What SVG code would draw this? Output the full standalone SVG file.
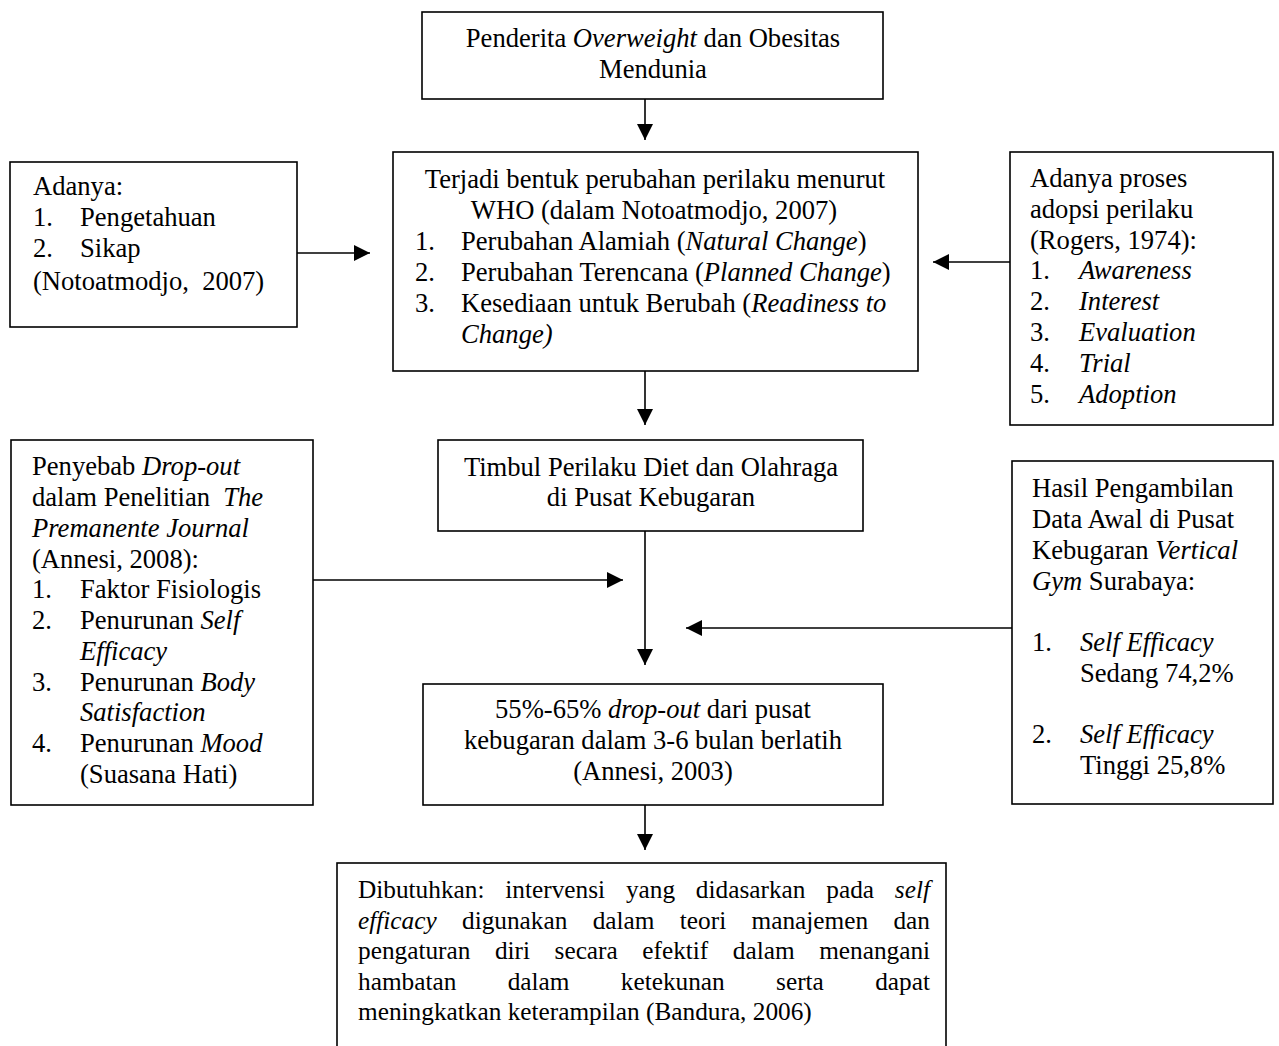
<svg xmlns="http://www.w3.org/2000/svg" width="1279" height="1046" viewBox="0 0 1279 1046">
  <style>
    .box { fill: #ffffff; stroke: #000000; stroke-width: 1.6; }
    .t { font-family: "Liberation Serif", "Times New Roman", serif; font-size: 26.6px; fill: #000000; }
    .s { font-size: 25.3px; }
    .c { text-anchor: middle; }
    .i { font-style: italic; }
    .conn { stroke: #000000; stroke-width: 1.6; fill: none; marker-end: url(#ah); }
  </style>
  <defs>
    <marker id="ah" markerWidth="16" markerHeight="16" refX="16" refY="8" orient="auto" markerUnits="userSpaceOnUse">
      <path d="M0,0 L16,8 L0,16 Z" fill="#000000"/>
    </marker>
  </defs>

  <rect x="0" y="0" width="1279" height="1046" fill="#ffffff"/>

  <!-- Connectors -->
  <g id="connectors">
    <line class="conn" x1="645" y1="99" x2="645" y2="140"/>
    <line class="conn" x1="297" y1="253" x2="370" y2="253"/>
    <line class="conn" x1="1010" y1="262" x2="933" y2="262"/>
    <line class="conn" x1="645" y1="371" x2="645" y2="425"/>
    <line class="conn" x1="645" y1="531" x2="645" y2="665"/>
    <line class="conn" x1="313" y1="580" x2="623" y2="580"/>
    <line class="conn" x1="1012" y1="628" x2="686" y2="628"/>
    <line class="conn" x1="645" y1="805" x2="645" y2="850"/>
  </g>

  <!-- Top: worldwide overweight and obesity -->
  <g id="node-overweight">
    <rect class="box" x="422" y="12" width="461" height="87"/>
    <text class="t c" x="653" y="47">Penderita <tspan class="i">Overweight</tspan> dan Obesitas</text>
    <text class="t c" x="653" y="78">Mendunia</text>
  </g>

  <!-- Behaviour change according to WHO -->
  <g id="node-who">
    <rect class="box" x="393" y="152" width="525" height="219"/>
    <text class="t c" x="655" y="188">Terjadi bentuk perubahan perilaku menurut</text>
    <text class="t c" x="654" y="219">WHO (dalam Notoatmodjo, 2007)</text>
    <text class="t" x="415" y="250">1.</text>
    <text class="t" x="461" y="250">Perubahan Alamiah (<tspan class="i">Natural Change</tspan>)</text>
    <text class="t" x="415" y="281">2.</text>
    <text class="t" x="461" y="281">Perubahan Terencana (<tspan class="i">Planned Change</tspan>)</text>
    <text class="t" x="415" y="312">3.</text>
    <text class="t" x="461" y="312">Kesediaan untuk Berubah (<tspan class="i">Readiness to</tspan></text>
    <text class="t i" x="461" y="343">Change)</text>
  </g>

  <!-- Knowledge and attitude -->
  <g id="node-knowledge">
    <rect class="box" x="10" y="162" width="287" height="165"/>
    <text class="t" x="33" y="195">Adanya:</text>
    <text class="t" x="33" y="226">1.</text>
    <text class="t" x="80" y="226">Pengetahuan</text>
    <text class="t" x="33" y="257">2.</text>
    <text class="t" x="80" y="257">Sikap</text>
    <text class="t" x="33" y="290" xml:space="preserve">(Notoatmodjo,  2007)</text>
  </g>

  <!-- Adoption process (Rogers) -->
  <g id="node-adoption">
    <rect class="box" x="1010" y="152" width="263" height="273"/>
    <text class="t" x="1030" y="187">Adanya proses</text>
    <text class="t" x="1030" y="218">adopsi perilaku</text>
    <text class="t" x="1030" y="249">(Rogers, 1974):</text>
    <text class="t" x="1030" y="279">1.</text>
    <text class="t i" x="1079" y="279">Awareness</text>
    <text class="t" x="1030" y="310">2.</text>
    <text class="t i" x="1079" y="310">Interest</text>
    <text class="t" x="1030" y="341">3.</text>
    <text class="t i" x="1079" y="341">Evaluation</text>
    <text class="t" x="1030" y="372">4.</text>
    <text class="t i" x="1079" y="372">Trial</text>
    <text class="t" x="1030" y="403">5.</text>
    <text class="t i" x="1079" y="403">Adoption</text>
  </g>

  <!-- Diet and exercise behaviour -->
  <g id="node-diet">
    <rect class="box" x="438" y="440" width="425" height="91"/>
    <text class="t c" x="651" y="476">Timbul Perilaku Diet dan Olahraga</text>
    <text class="t c" x="651" y="506">di Pusat Kebugaran</text>
  </g>

  <!-- Drop-out causes -->
  <g id="node-causes">
    <rect class="box" x="11" y="440" width="302" height="365"/>
    <text class="t" x="32" y="475">Penyebab <tspan class="i">Drop-out</tspan></text>
    <text class="t" x="32" y="506" xml:space="preserve">dalam Penelitian  <tspan class="i">The</tspan></text>
    <text class="t i" x="32" y="536.5">Premanente Journal</text>
    <text class="t" x="32" y="567.5">(Annesi, 2008):</text>
    <text class="t" x="32" y="598">1.</text>
    <text class="t" x="80" y="598">Faktor Fisiologis</text>
    <text class="t" x="32" y="629">2.</text>
    <text class="t" x="80" y="629">Penurunan <tspan class="i">Self</tspan></text>
    <text class="t i" x="80" y="660">Efficacy</text>
    <text class="t" x="32" y="690.5">3.</text>
    <text class="t" x="80" y="690.5">Penurunan <tspan class="i">Body</tspan></text>
    <text class="t i" x="80" y="721">Satisfaction</text>
    <text class="t" x="32" y="752">4.</text>
    <text class="t" x="80" y="752">Penurunan <tspan class="i">Mood</tspan></text>
    <text class="t" x="80" y="783">(Suasana Hati)</text>
  </g>

  <!-- Initial data from Vertical Gym -->
  <g id="node-data">
    <rect class="box" x="1012" y="461" width="261" height="343"/>
    <text class="t" x="1032" y="497">Hasil Pengambilan</text>
    <text class="t" x="1032" y="528">Data Awal di Pusat</text>
    <text class="t" x="1032" y="559">Kebugaran <tspan class="i">Vertical</tspan></text>
    <text class="t" x="1032" y="590"><tspan class="i">Gym</tspan> Surabaya:</text>
    <text class="t" x="1032" y="651">1.</text>
    <text class="t i" x="1080" y="651">Self Efficacy</text>
    <text class="t" x="1080" y="682">Sedang 74,2%</text>
    <text class="t" x="1032" y="743">2.</text>
    <text class="t i" x="1080" y="743">Self Efficacy</text>
    <text class="t" x="1080" y="774">Tinggi 25,8%</text>
  </g>

  <!-- Drop-out rate -->
  <g id="node-dropout">
    <rect class="box" x="423" y="684" width="460" height="121"/>
    <text class="t c" x="653" y="718">55%-65% <tspan class="i">drop-out</tspan> dari pusat</text>
    <text class="t c" x="653" y="749">kebugaran dalam 3-6 bulan berlatih</text>
    <text class="t c" x="653" y="780">(Annesi, 2003)</text>
  </g>

  <!-- Required intervention (justified paragraph) -->
  <g id="node-intervention">
    <rect class="box" x="337" y="863" width="609" height="190"/>
    <text class="t s" x="358" y="898" style="word-spacing:14.5px">Dibutuhkan: intervensi yang didasarkan pada <tspan class="i">self</tspan></text>
    <text class="t s" x="358" y="928.5" style="word-spacing:19px"><tspan class="i">efficacy</tspan> digunakan dalam teori manajemen dan</text>
    <text class="t s" x="358" y="959" style="word-spacing:18.2px">pengaturan diri secara efektif dalam menangani</text>
    <text class="t s" x="358" y="989.5" style="word-spacing:45px">hambatan dalam ketekunan serta dapat</text>
    <text class="t s" x="358" y="1020">meningkatkan keterampilan (Bandura, 2006)</text>
  </g>
</svg>
